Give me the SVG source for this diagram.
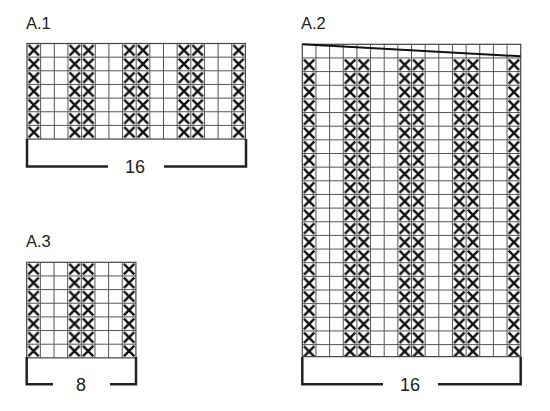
<svg xmlns="http://www.w3.org/2000/svg" width="550" height="411" viewBox="0 0 550 411">
<style>
.t{font-family:"Liberation Sans",Arial,sans-serif;font-size:16.5px;fill:#222}
.n{font-family:"Liberation Sans",Arial,sans-serif;font-size:18px;fill:#222;text-anchor:middle}
.g{fill:none;stroke:#555;stroke-width:1}
.b{fill:none;stroke:#222;stroke-width:2.5}
.o{fill:none;stroke:#444;stroke-width:1.2}
</style>
<defs>
<pattern id="xp" width="13.65" height="13.65" patternUnits="userSpaceOnUse">
<path d="M1.6 1.6L12.05 12.05M12.05 1.6L1.6 12.05" stroke="#111" stroke-width="2.5" fill="none"/>
</pattern>
</defs>
<rect width="550" height="411" fill="#fff"/>

<g id="A1">
<text class="t" x="26" y="29">A.1</text>
<g transform="translate(27,43.5)">
<rect x="0" y="0" width="13.65" height="95.55" fill="url(#xp)"/>
<rect x="40.95" y="0" width="27.3" height="95.55" fill="url(#xp)"/>
<rect x="95.55" y="0" width="27.3" height="95.55" fill="url(#xp)"/>
<rect x="150.15" y="0" width="27.3" height="95.55" fill="url(#xp)"/>
<rect x="204.75" y="0" width="13.65" height="95.55" fill="url(#xp)"/>
<path class="g" d="M13.65 0v95.55M27.3 0v95.55M40.95 0v95.55M54.6 0v95.55M68.25 0v95.55M81.9 0v95.55M95.55 0v95.55M109.2 0v95.55M122.85 0v95.55M136.5 0v95.55M150.15 0v95.55M163.8 0v95.55M177.45 0v95.55M191.1 0v95.55M204.75 0v95.55M0 13.65h218.4M0 27.3h218.4M0 40.95h218.4M0 54.6h218.4M0 68.25h218.4M0 81.9h218.4"/>
<rect class="o" x="0" y="0" width="218.4" height="95.55"/>
</g>
<path class="b" d="M27 139V166.5H108M164 166.5H246V139"/>
<text class="n" x="135" y="173">16</text>
</g>

<g id="A2">
<text class="t" x="301" y="29">A.2</text>
<g transform="translate(302.3,44.3)">
<rect x="0" y="13.65" width="13.65" height="298.7" fill="url(#xp)"/>
<rect x="40.95" y="13.65" width="27.3" height="298.7" fill="url(#xp)"/>
<rect x="95.55" y="13.65" width="27.3" height="298.7" fill="url(#xp)"/>
<rect x="150.15" y="13.65" width="27.3" height="298.7" fill="url(#xp)"/>
<rect x="204.75" y="13.65" width="13.65" height="298.7" fill="url(#xp)"/>
<path class="g" d="M13.65 0v312.35M27.3 0v312.35M40.95 0v312.35M54.6 0v312.35M68.25 0v312.35M81.9 0v312.35M95.55 0v312.35M109.2 0v312.35M122.85 0v312.35M136.5 0v312.35M150.15 0v312.35M163.8 0v312.35M177.45 0v312.35M191.1 0v312.35M204.75 0v312.35M0 13.65h218.4M0 27.3h218.4M0 40.95h218.4M0 54.6h218.4M0 68.25h218.4M0 81.9h218.4M0 95.55h218.4M0 109.2h218.4M0 122.85h218.4M0 136.5h218.4M0 150.15h218.4M0 163.8h218.4M0 177.45h218.4M0 191.1h218.4M0 204.75h218.4M0 218.4h218.4M0 232.05h218.4M0 245.7h218.4M0 259.35h218.4M0 273h218.4M0 286.65h218.4M0 300.3h218.4"/>
<rect class="o" x="0" y="0" width="218.4" height="312.35"/>
<path d="M0 0L218.4 12" stroke="#111" stroke-width="2" fill="none"/>
</g>
<path class="b" d="M302.3 357V384.3H383M438 384.3H520.7V357"/>
<text class="n" x="410" y="391">16</text>
</g>

<g id="A3">
<text class="t" x="26" y="247">A.3</text>
<g transform="translate(26.7,262.3)">
<rect x="0" y="0" width="13.65" height="95.55" fill="url(#xp)"/>
<rect x="40.95" y="0" width="27.3" height="95.55" fill="url(#xp)"/>
<rect x="95.55" y="0" width="13.65" height="95.55" fill="url(#xp)"/>
<path class="g" d="M13.65 0v95.55M27.3 0v95.55M40.95 0v95.55M54.6 0v95.55M68.25 0v95.55M81.9 0v95.55M95.55 0v95.55M0 13.65h109.2M0 27.3h109.2M0 40.95h109.2M0 54.6h109.2M0 68.25h109.2M0 81.9h109.2"/>
<rect class="o" x="0" y="0" width="109.2" height="95.55"/>
</g>
<path class="b" d="M26.7 357V384.3H53M110 384.3H136V357"/>
<text class="n" x="81" y="391">8</text>
</g>
</svg>
